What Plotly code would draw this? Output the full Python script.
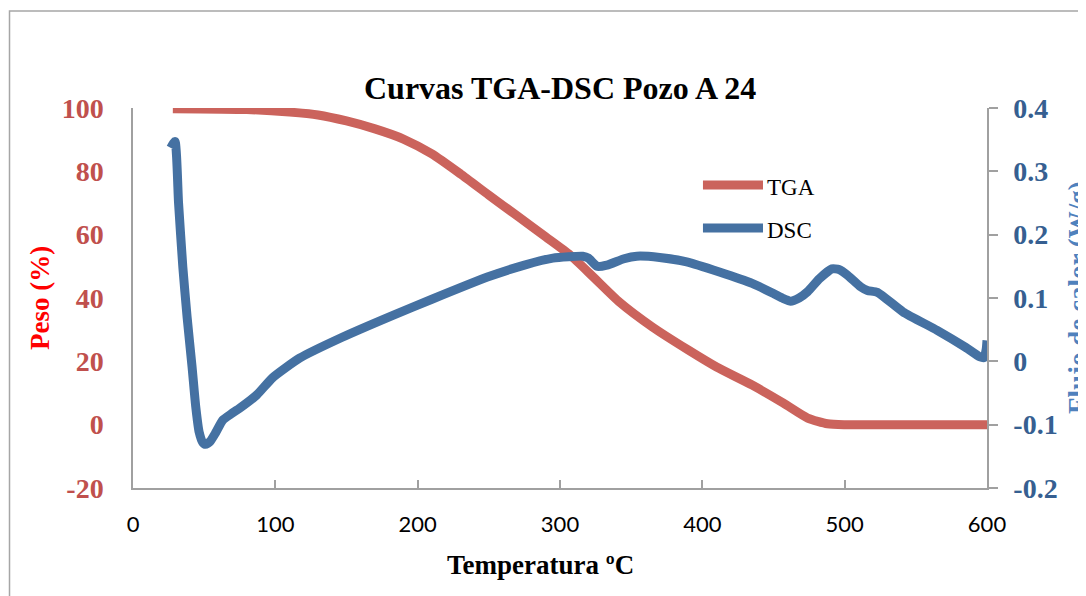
import plotly.graph_objects as go

# ---- data ----
tga_temp = [28, 80, 110, 130, 150, 170, 190, 210, 230, 250, 270, 290, 307, 323, 342, 365, 390, 410, 435, 457, 474, 488, 500, 550, 600]
tga_peso = [99.8, 99.5, 98.7, 97.8, 95.9, 93.4, 90.2, 85.5, 79.2, 72.5, 65.9, 59.3, 53.6, 46.8, 38.6, 30.8, 23.6, 18.2, 12.5, 6.8, 2.1, 0.3, 0.0, 0.0, 0.0]

dsc_temp = [26.5, 29.5, 32, 35, 38, 41.5, 44, 46.5, 49, 51, 54, 58, 63, 69, 75, 87, 98, 117, 147, 183, 210, 249, 275, 295, 316, 320, 326, 333, 345, 354, 370, 389, 412, 435, 450, 457, 462, 468, 474, 482, 491, 496, 502, 511, 516, 523, 541, 565, 585, 595, 598, 599.5, 600]
dsc_flujo = [0.337, 0.347, 0.25, 0.149, 0.07, -0.009, -0.07, -0.112, -0.128, -0.131, -0.127, -0.113, -0.093, -0.083, -0.074, -0.053, -0.026, 0.005, 0.038, 0.073, 0.098, 0.133, 0.152, 0.163, 0.166, 0.163, 0.150, 0.152, 0.162, 0.166, 0.164, 0.157, 0.141, 0.123, 0.107, 0.099, 0.095, 0.100, 0.110, 0.130, 0.146, 0.145, 0.136, 0.118, 0.112, 0.109, 0.078, 0.049, 0.022, 0.007, 0.006, 0.020, 0.033]

x_ticks = [0, 100, 200, 300, 400, 500, 600]
peso_ticks = [-20, 0, 20, 40, 60, 80, 100]
peso_labels = ["-20", "0", "20", "40", "60", "80", "100"]
flujo_ticks = [-0.2, -0.1, 0, 0.1, 0.2, 0.3, 0.4]
flujo_labels = ["-0.2", "-0.1", "0", "0.1", "0.2", "0.3", "0.4"]

RED = "#CB635C"
BLUE = "#4571A2"
AXIS = "#A0A0A0"
SERIF = "Liberation Serif"

fig = go.Figure()
fig.add_trace(go.Scatter(x=tga_temp, y=tga_peso, mode="lines", name="TGA",
                         line=dict(color=RED, width=9, shape="spline", smoothing=0.6),
                         yaxis="y", showlegend=False))
fig.add_trace(go.Scatter(x=dsc_temp, y=dsc_flujo, mode="lines", name="DSC",
                         line=dict(color=BLUE, width=9, shape="spline", smoothing=0.5),
                         yaxis="y2", showlegend=False))

fig.update_layout(
    width=1078, height=588, autosize=False,
    margin=dict(l=125, r=99, t=100, b=108),
    paper_bgcolor="white", plot_bgcolor="white",
    xaxis=dict(range=[0, 600], tickvals=x_ticks, showgrid=False, zeroline=False,
               showline=True, linecolor=AXIS, linewidth=1.5,
               ticks="inside", ticklen=8, tickcolor=AXIS, tickwidth=1.5,
               tickfont=dict(family="Lato", size=22, color="black"),
               ticklabelstandoff=16),
    yaxis=dict(range=[-20, 100], tickvals=peso_ticks, ticktext=peso_labels,
               showgrid=False, zeroline=False,
               showline=True, linecolor=AXIS, linewidth=1.5, ticks="",
               tickfont=dict(family=SERIF, size=28, color="#C0504D", weight="bold"),
               ticklabelstandoff=22),
    yaxis2=dict(range=[-0.2, 0.4], tickvals=flujo_ticks, ticktext=flujo_labels,
                overlaying="y", side="right", showgrid=False, zeroline=False,
                showline=True, linecolor=AXIS, linewidth=1.5,
                ticks="outside", ticklen=9, tickcolor=AXIS, tickwidth=1.5,
                tickfont=dict(family=SERIF, size=28, color="#365F91", weight="bold"),
                ticklabelstandoff=10),
)

# chart frame
fig.add_shape(type="rect", xref="paper", yref="paper", x0=-0.1446, x1=1.3, y0=-0.6, y1=1.2553,
              line=dict(color="#A6A6A6", width=1.5), fillcolor="rgba(0,0,0,0)", layer="below")

# legend (custom)
fig.add_shape(type="line", xref="paper", yref="paper", x0=0.6674, x1=0.7377, y0=0.7974, y1=0.7974,
              line=dict(color=RED, width=9))
fig.add_shape(type="line", xref="paper", yref="paper", x0=0.6674, x1=0.7377, y0=0.6842, y1=0.6842,
              line=dict(color=BLUE, width=9))

annotations = [
    dict(text="<b>Curvas TGA-DSC Pozo A 24</b>", x=0.5, y=1.0526, xref="paper", yref="paper",
         showarrow=False, xanchor="center", yanchor="middle",
         font=dict(family=SERIF, size=32, color="black")),
    dict(text="<b>Temperatura ºC</b>", x=0.4766, y=-0.2026, xref="paper", yref="paper",
         showarrow=False, xanchor="center", yanchor="middle",
         font=dict(family=SERIF, size=27, color="black")),
    dict(text="<b>Peso (%)</b>", x=-0.1089, y=0.5, xref="paper", yref="paper",
         showarrow=False, xanchor="center", yanchor="middle", textangle=-90,
         font=dict(family=SERIF, size=27, color="#FF0000")),
    dict(text="<b>Flujo de calor (W/g)</b>", x=1.1066, y=0.5, xref="paper", yref="paper",
         showarrow=False, xanchor="center", yanchor="middle", textangle=-90,
         font=dict(family=SERIF, size=27, color="#4F81BD")),
    dict(text="TGA", x=0.740, y=0.7921, xref="paper", yref="paper",
         showarrow=False, xanchor="left", yanchor="middle",
         font=dict(family=SERIF, size=23, color="black")),
    dict(text="DSC", x=0.740, y=0.6789, xref="paper", yref="paper",
         showarrow=False, xanchor="left", yanchor="middle",
         font=dict(family=SERIF, size=23, color="black")),
]
fig.update_layout(annotations=annotations)

fig.write_html("out.html")
